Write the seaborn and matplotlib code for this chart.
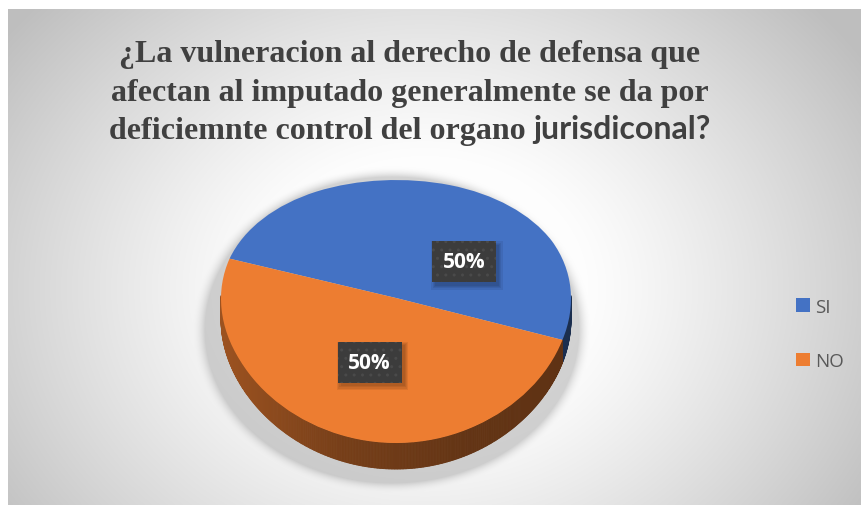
import numpy as np
import matplotlib
matplotlib.use("Agg")
import matplotlib.pyplot as plt
import seaborn as sns
from matplotlib.collections import PolyCollection
from matplotlib.patches import Rectangle, Patch
import matplotlib.transforms as mtransforms

# ---------------- data ----------------
categories = ["SI", "NO"]
values = [50, 50]
title_lines = ["¿La vulneracion al derecho de defensa que",
               "afectan al imputado generalmente se da por",
               "deficiemnte control del organo"]
title_tail = "jurisdiconal?"

# ---------------- style ----------------
colors = ["#4472C4", "#ED7D31"]
label_shift = [-36, 0]      # degrees from slice mid-angle (Excel best-fit)
label_radius = [0.48, 0.49]

sns.set_theme(style="white")
plt.rcParams['font.family'] = ['Open Sans', 'DejaVu Sans']

W, H, DPI = 861, 506, 100
fig = plt.figure(figsize=(W / DPI, H / DPI), dpi=DPI)
fig.patch.set_facecolor('white')

# ---------------- background (radial gradient + pie shadow) ----------------
x0, y0 = 8, 10
bw, bh = W - x0, H - y0
yy, xx = np.mgrid[0:bh, 0:bw]
px = xx + x0 + 0.5
py = yy + y0 + 0.5
cx, cy = 425, 290
r = np.sqrt(((px - cx) / 430) ** 2 + ((py - cy) / 350) ** 2)
t = np.clip((r - 0.38) / (1.22 - 0.38), 0, 1)
g = 253 - 63 * t ** 1.15
scx, scy, srx, sry = 392, 331, 187, 153
rs = np.sqrt(((px - scx) / srx) ** 2 + ((py - scy) / sry) ** 2)
sh = 0.38 * np.clip(1 - (rs - 1) / 0.07, 0, 1) ** 2
g = g - sh * (g - 140)
img = np.dstack([g, g, g]) / 255.0
ax_bg = fig.add_axes([x0 / W, 0, bw / W, bh / H])
ax_bg.imshow(img, aspect='auto', interpolation='bilinear')
ax_bg.axis('off')

# ---------------- pie (3-D look via a perspective y-scale) ----------------
ax = fig.add_axes([0, 0, 1, 1])
ax.patch.set_alpha(0)
pcx, prx = 396, 175          # pie centre x / x-radius in px
pcy, A, B = 299, 131.5, 13.5  # projected centre y and perspective terms (px)


def fwd(y):
    y = np.asarray(y, dtype=float)
    return A * y - B * y ** 2


def inv(s):
    s = np.asarray(s, dtype=float)
    disc = np.clip(A * A - 4 * B * s, 0, None)
    return (A - np.sqrt(disc)) / (2 * B)


wedges, _ = ax.pie(values, colors=colors, startangle=162, counterclock=False,
                   radius=1, wedgeprops=dict(linewidth=0, zorder=3))
ax.set_aspect('auto')
ax.set_yscale('function', functions=(fwd, inv))
ax.set_xlim(-pcx / prx, (W - pcx) / prx)
ax.set_ylim(float(inv(pcy - H)), float(inv(pcy)))
ax.axis('off')

depth = 0.162
polys, fcs = [], []
for w, c in zip(wedges, colors):
    base = np.array(matplotlib.colors.to_rgb(c))
    angs = np.deg2rad(np.append(np.arange(w.theta1, w.theta2, 0.5), w.theta2))
    for a, b in zip(angs[:-1], angs[1:]):
        m = 0.5 * (a + b)
        if np.sin(m) > 0.02:
            continue
        polys.append([(np.cos(a), np.sin(a)), (np.cos(b), np.sin(b)),
                      (np.cos(b), np.sin(b) - depth), (np.cos(a), np.sin(a) - depth)])
        f = np.interp(np.cos(m), [-1, -0.3, 0.4, 1], [0.66, 0.50, 0.42, 0.40])
        fcs.append(base * f)
ax.add_collection(PolyCollection(polys, facecolors=fcs, edgecolors=fcs,
                                 linewidths=0.6, zorder=2))

# ---------------- data labels ----------------
total = sum(values)
for i, w in enumerate(wedges):
    mid = 0.5 * (w.theta1 + w.theta2) + label_shift[i]
    lx = label_radius[i] * np.cos(np.deg2rad(mid))
    ly = label_radius[i] * np.sin(np.deg2rad(mid))
    tr = fig.dpi_scale_trans + mtransforms.ScaledTranslation(lx, ly, ax.transData)
    for k in range(4):
        e = 0.012 * k
        ax.add_patch(Rectangle((-0.32 + 0.03 - e, -0.205 - 0.035 - e), 0.64 + 2 * e, 0.41 + 2 * e,
                               transform=tr, facecolor='black', alpha=0.07,
                               linewidth=0, zorder=4))
    ax.add_patch(Rectangle((-0.32, -0.205), 0.64, 0.41, transform=tr,
                           facecolor='#3c3c3c', edgecolor='#4a4a4a', hatch='..',
                           linewidth=0, zorder=5))
    ax.text(lx, ly, f"{values[i] / total:.0%}", ha='center', va='center',
            color='white', fontsize=15, fontweight='bold',
            family=['Open Sans', 'DejaVu Sans'], zorder=6)

# ---------------- title ----------------
tcx = 410
fs = 23
baselines = [62, 101, 139]
tkw = dict(fontsize=fs, fontweight='bold', color='#404040',
           family=['Liberation Serif', 'DejaVu Serif'], va='baseline')
for line, b in zip(title_lines[:2], baselines[:2]):
    fig.text(tcx / W, 1 - b / H, line, ha='center', **tkw)
t1 = fig.text(0, 1 - baselines[2] / H, title_lines[2], ha='left', **tkw)
t2 = fig.text(0, 1 - baselines[2] / H, title_tail, ha='left', fontsize=fs,
              fontweight='bold', color='#404040', va='baseline',
              family=['Lato', 'Open Sans', 'DejaVu Sans'])
ren = fig.canvas.get_renderer()
w1 = t1.get_window_extent(ren).width
w2 = t2.get_window_extent(ren).width
gap = 0.25 * fs * DPI / 72
start = tcx - (w1 + gap + w2) / 2
t1.set_x(start / W)
t2.set_x((start + w1 + gap) / W)

# ---------------- legend ----------------
handles = [Patch(facecolor=c, edgecolor='none') for c in colors]
fig.legend(handles, categories, loc='center left',
           bbox_to_anchor=(796 / W, 1 - 335 / H), frameon=False,
           fontsize=13.5, handlelength=0.72, handleheight=0.72,
           handletextpad=0.3, labelspacing=1.95, borderpad=0, borderaxespad=0,
           labelcolor='#595959')

fig.savefig("out.png", dpi=DPI, facecolor='white')
